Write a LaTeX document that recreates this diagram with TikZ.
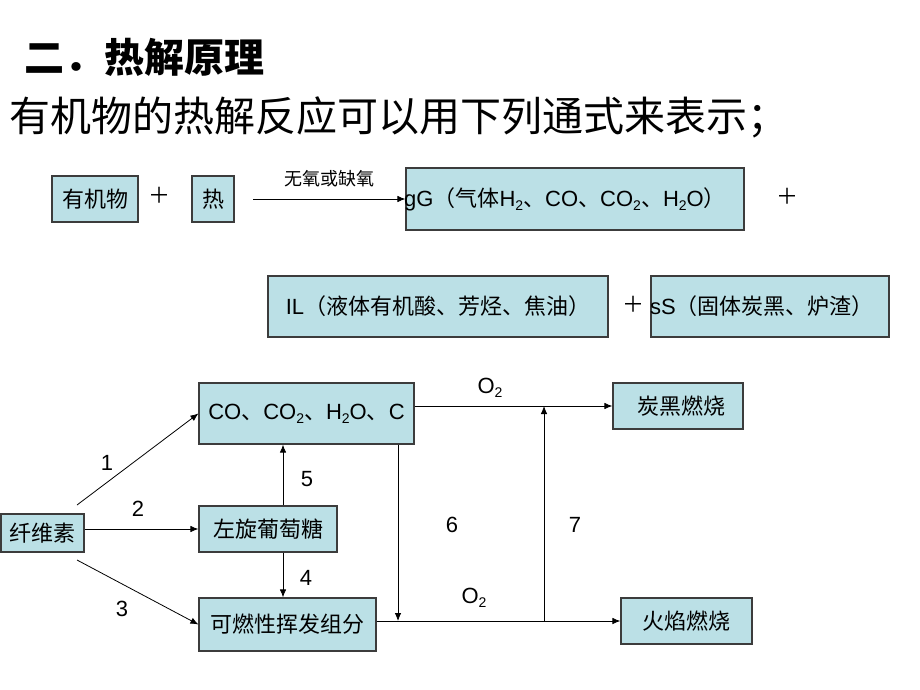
\documentclass[tikz,border=0pt]{standalone}
\usepackage{fontspec}
\setmainfont{Liberation Sans}
\newfontfamily\cjk{Noto Sans CJK SC}
\usetikzlibrary{arrows.meta}
\definecolor{boxfill}{RGB}{187,224,230}
\definecolor{boxline}{RGB}{60,60,60}
\newcommand\cj[1]{{\cjk #1}}
\newcommand\sub[1]{\raisebox{-0.35ex}{\fontsize{14}{16}\selectfont #1}}
\tikzset{
  box/.style={draw=boxline, line width=1.2pt, fill=boxfill, inner sep=0pt, font=\fontsize{22}{25}\selectfont},
  arr/.style={-{Latex[length=8pt,width=6.5pt]}, line width=0.8pt},
  lbl/.style={inner sep=0pt, font=\fontsize{22}{25}\selectfont},
}
\begin{document}
\begin{tikzpicture}[x=1pt,y=-1pt]
\useasboundingbox (0,0) rectangle (920,690);
% headings
\node[lbl, anchor=west, font=\fontsize{40}{44}\selectfont\bfseries] (title) at (24,57) {\cj{二．热解原理}};
\node[lbl, anchor=west, font=\fontsize{41}{44}\selectfont] (intro) at (9,117) {\cj{有机物的热解反应可以用下列通式来表示；}};
% row 1
\node[box, minimum width=86pt, minimum height=46pt] (org) at (95,199) {\cj{有机物}};
\node[lbl] (plus1) at (159,195) {\cj{＋}};
\node[box, minimum width=42pt, minimum height=46pt] (heat) at (213,199) {\cj{热}};
\node[box, minimum width=338pt, minimum height=62pt] (gbox) at (575,199) {};
\node[lbl, anchor=west] (gtext) at (404,199) {gG\cj{（气体}H\sub{2}\cj{、}CO\cj{、}CO\sub{2}\cj{、}H\sub{2}O\cj{）}};
\coordinate (a0) at (253,199);
\draw[arr] (a0) -- node[above=12pt, lbl, font=\fontsize{18}{20}\selectfont] (cond) {\cj{无氧或缺氧}} (gbox.west);
\node[lbl] (plus2) at (787,196) {\cj{＋}};
% row 2
\node[box, minimum width=340pt, minimum height=61pt] (lbox) at (438,306.5) {IL\cj{（液体有机酸、芳烃、焦油）}};
\node[lbl] (plus3) at (633,304) {\cj{＋}};
\node[box, minimum width=238pt, minimum height=61pt] (sbox) at (770,306.5) {};
\node[lbl, anchor=west] (stext) at (650,306.5) {sS\cj{（固体炭黑、炉渣）}};
% lower diagram
\node[box, minimum width=83pt, minimum height=38pt] (fiber) at (42.5,533) {\cj{纤维素}};
\node[box, minimum width=215pt, minimum height=61pt] (co) at (306.5,413.5) {CO\cj{、}CO\sub{2}\cj{、}H\sub{2}O\cj{、}C};
\node[box, minimum width=138pt, minimum height=46pt] (glu) at (268,529) {\cj{左旋葡萄糖}};
\node[box, minimum width=177pt, minimum height=53pt] (vol) at (287.5,624.5) {\cj{可燃性挥发组分}};
\node[box, minimum width=130pt, minimum height=46pt] (soot) at (678,406) {\hspace*{6pt}\cj{炭黑燃烧}};
\node[box, minimum width=131pt, minimum height=46pt] (flame) at (686.5,621) {\cj{火焰燃烧}};
% connectors
\coordinate (s1) at (77,505);
\coordinate (s3) at (77,560);
\coordinate (j6) at (398,621);
\coordinate (j7) at (544,621);
\draw[arr] (s1) -- (co.west);
\draw[arr] (fiber.east |- glu.west) -- (glu.west);
\draw[arr] (s3) -- (vol.west);
\draw[arr] ([xshift=15pt]glu.north) -- ([xshift=15pt]glu.north |- co.south);
\draw[arr] ([xshift=15pt]glu.south) -- ([xshift=15pt]glu.south |- vol.north);
\draw[arr] (vol.east |- flame.west) -- (flame.west);
\draw[arr] (co.south -| j6) -- (j6);
\draw[arr] (j7) -- (j7 |- soot.west);
\draw[arr] (co.east |- soot.west) -- (soot.west);
% labels
\node[lbl] (o2a) at (490,388) {O\sub{2}};
\node[lbl] (o2b) at (474,598) {O\sub{2}};
\node[lbl] (n1) at (107,463) {1};
\node[lbl] (n2) at (138,509) {2};
\node[lbl] (n3) at (122,609) {3};
\node[lbl] (n4) at (306,578) {4};
\node[lbl] (n5) at (307,479) {5};
\node[lbl] (n6) at (452,525) {6};
\node[lbl] (n7) at (575,525) {7};
\end{tikzpicture}
\end{document}
